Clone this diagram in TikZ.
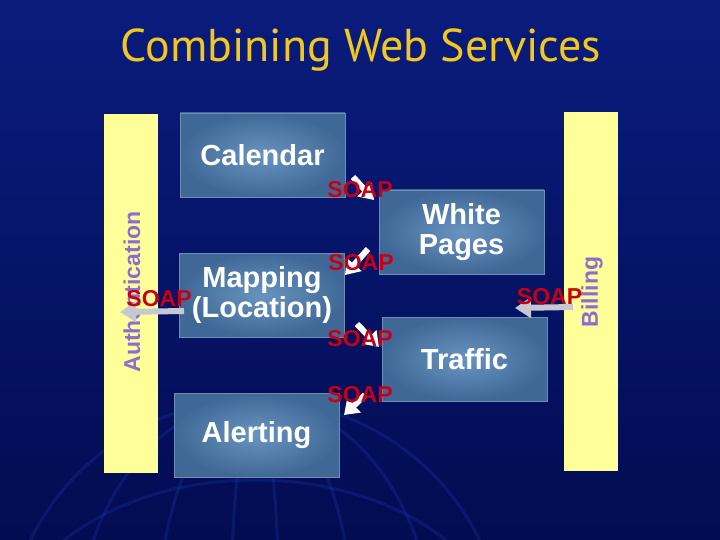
\documentclass[tikz,border=0pt]{standalone}
\usepackage{fontspec}
\setmainfont{Liberation Sans}
\newfontfamily\titlefont{PT Sans}
\usetikzlibrary{arrows.meta}
\definecolor{bgtop}{RGB}{10,28,125}
\definecolor{bgbot}{RGB}{2,12,82}
\definecolor{boxedge}{RGB}{64,104,150}
\definecolor{boxmid}{RGB}{104,148,192}
\definecolor{boxline}{RGB}{110,140,180}
\definecolor{barfill}{RGB}{255,255,153}
\definecolor{bartext}{RGB}{140,110,210}
\definecolor{soapred}{RGB}{200,0,20}
\definecolor{titleyellow}{RGB}{242,200,30}
\definecolor{greyarrow}{RGB}{200,200,210}
\definecolor{globeline}{RGB}{25,55,165}
\tikzset{
  svcbox/.style={minimum width=165pt, minimum height=84pt, inner sep=0pt,
    inner color=boxmid, outer color=boxedge,
    draw=boxline, line width=0.8pt, text=white, align=center,
    font=\bfseries\fontsize{29}{30}\selectfont},
  bar/.style={fill=barfill, draw=none},
  bartxt/.style={rotate=90, text=bartext, font=\bfseries\fontsize{23}{24}\selectfont},
  soap/.style={text=soapred, font=\bfseries\fontsize{23}{24}\selectfont, anchor=base, inner sep=0pt},
  whitearrow/.style={draw=white, line width=6pt, -{Triangle[width=19pt,length=14pt]}},
  greyarr/.style={draw=greyarrow, line width=6pt, -{Triangle[width=20pt,length=16pt]}}
}
\begin{document}
\begin{tikzpicture}[x=1pt,y=-1pt]
\useasboundingbox (0,0) rectangle (720,540);
\shade[top color=bgtop, bottom color=bgbot] (0,0) rectangle (720,540);
% faint globe
\begin{scope}
\clip (0,0) rectangle (720,540);
\begin{scope}[draw=globeline, line width=3pt, opacity=0.3]
\draw (255,650) circle (250);
\draw (255,650) ellipse (180 and 250);
\draw (255,650) ellipse (100 and 250);
\draw (255,650) ellipse (25 and 250);
\draw (255,650) ellipse (250 and 170);
\draw (255,650) ellipse (250 and 80);
\end{scope}
\end{scope}
% title
\node[anchor=base, text=titleyellow, font=\titlefont\fontsize{46}{48}\selectfont] (title) at (361,62) {Combining Web Services};
% side bars
\fill[bar] (104,114) rectangle (158,473);
\node[bartxt] (auth) at (132,292) {Authentication};
\fill[bar] (564,112) rectangle (618,471);
\node[bartxt] (bill) at (592,292) {Billing};
% service boxes
\node[svcbox] (cal) at (262.5,155) {Calendar};
\node[svcbox] (wp) at (461.5,232) {White\\Pages};
\node[svcbox] (map) at (262,295) {Mapping\\(Location)};
\node[svcbox] (traf) at (464.5,359) {Traffic};
\node[svcbox] (alert) at (256.5,435) {Alerting};
% connector ends
\coordinate (c1a) at (353,177); \coordinate (c1b) at (374,200);
\coordinate (c2a) at (368,249); \coordinate (c2b) at (345,275);
\coordinate (c3a) at (357,324); \coordinate (c3b) at (379,347);
\coordinate (c4a) at (365,395); \coordinate (c4b) at (344,415);
\coordinate (gl1) at (184,311); \coordinate (gl2) at (120,312);
\coordinate (gr1) at (573,307); \coordinate (gr2) at (515,308);
\draw[whitearrow] (c1a) -- (c1b);
\draw[whitearrow] (c2a) -- (c2b);
\draw[whitearrow] (c3a) -- (c3b);
\draw[whitearrow] (c4a) -- (c4b);
\draw[greyarr] (gl1) -- (gl2);
\draw[greyarr] (gr1) -- (gr2);
% SOAP labels
\node[soap] (s1) at (360,197) {SOAP};
\node[soap] (s2) at (361,270) {SOAP};
\node[soap] (s3) at (360,346) {SOAP};
\node[soap] (s4) at (360,402) {SOAP};
\node[soap] (s5) at (159,306) {SOAP};
\node[soap] (s6) at (549.5,304) {SOAP};
\end{tikzpicture}
\end{document}
